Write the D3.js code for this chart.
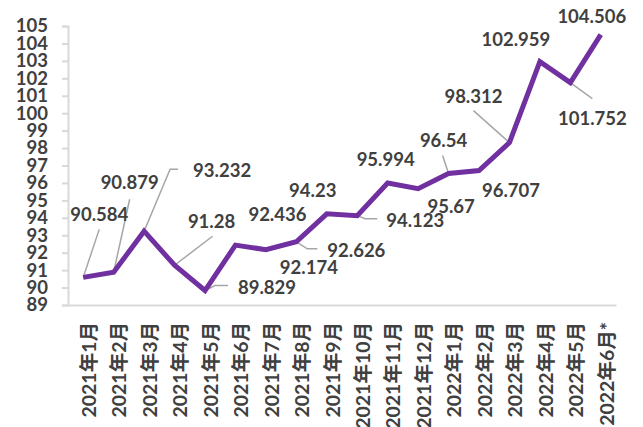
<!DOCTYPE html>
<html lang="zh">
<head>
<meta charset="UTF-8">
<title>Index</title>
<script src="https://cdn.jsdelivr.net/npm/d3@7"></script>
<style>
  body { margin: 0; background: #fff; }
  text { font-family: Lato, "Noto Sans CJK SC", sans-serif; font-weight: bold; fill: #404040; }
</style>
</head>
<body>
<div id="figure" style="width:643px;height:427px"></div>
<script>
    // data
    let months = ["2021年1月", "2021年2月", "2021年3月", "2021年4月", "2021年5月", "2021年6月",
        "2021年7月", "2021年8月", "2021年9月", "2021年10月", "2021年11月", "2021年12月",
        "2022年1月", "2022年2月", "2022年3月", "2022年4月", "2022年5月", "2022年6月*"];
    let values = [90.584, 90.879, 93.232, 91.28, 89.829, 92.436, 92.174, 92.626, 94.23,
        94.123, 95.994, 95.67, 96.54, 96.707, 98.312, 102.959, 101.752, 104.506];
    let labels = ["90.584", "90.879", "93.232", "91.28", "89.829", "92.436", "92.174", "92.626", "94.23",
        "94.123", "95.994", "95.67", "96.54", "96.707", "98.312", "102.959", "101.752", "104.506"];
    let yTicks = d3.range(89, 106);

    // label placement: offset of text (centre, baseline) from its point, and leader line
    let labelOffset = [[16, -56], [16, -83], [78, -54], [37, -37], [62, 3], [42, -24],
        [43, 24], [60, 15], [-14, -17], [58, 11], [-2, -17], [33, 24],
        [-5, -27], [32, 26], [-36, -40], [-24, -16], [22, 42], [-9, -12]];
    let leaders = [[[0, 0], [16, -48]], [[0, 0], [16, -73]], [[0, 0], [26, -62], [34, -62]],
        [[0, 0], [38, -29]], [[0, 0], [10, -5], [23, -5]], null, null,
        [[0, 0], [11, 7], [21, 7]], null, [[0, 0], [8, 3], [20, 3]], null, null,
        [[0, 0], [-6, -18]], null, [[0, 0], [-36, -32]], null, [[0, 0], [22, 16]], null];

    let w = 643, h = 427;
    let padLeft = 68, padRight = 616, padTop = 26, padBottom = 305;

    let svg = d3.select("#figure").append("svg")
        .attr("width", w)
        .attr("height", h);

    let x = d3.scaleBand()
        .domain(months)
        .range([padLeft, padRight]);
    let y = d3.scaleLinear()
        .domain([89, 105])
        .range([padBottom, padTop]);

    // y axis
    let yAxis = svg.append("g")
        .attr("transform", `translate(${padLeft},0)`)
        .call(d3.axisLeft(y).tickValues(yTicks).tickSize(6).tickPadding(14).tickFormat(d3.format("d")));
    yAxis.select(".domain").attr("stroke", "#d9d9d9").attr("stroke-width", 2);
    yAxis.selectAll(".tick line").attr("stroke", "#d9d9d9").attr("stroke-width", 2);
    yAxis.selectAll(".tick text").style("font-size", "18.5px").attr("fill", "#404040");

    // x axis
    let xAxis = svg.append("g")
        .attr("transform", `translate(0,${padBottom})`)
        .call(d3.axisBottom(x).tickSize(0).tickSizeOuter(0));
    xAxis.select(".domain").attr("stroke", "#d9d9d9").attr("stroke-width", 2);
    xAxis.selectAll(".tick text")
        .style("font-size", "19.5px")
        .attr("fill", "#404040")
        .attr("text-anchor", "end")
        .attr("transform", "translate(6,17) rotate(-90)")
        .attr("x", 0)
        .attr("y", 0)
        .attr("dy", "0.35em");

    let px = (d, i) => x(months[i]) + x.bandwidth() / 2;
    let py = d => y(d);

    // leader lines
    svg.append("g").selectAll("path")
        .data(values.map((v, i) => ({v: v, i: i})).filter(d => leaders[d.i]))
        .join("path")
        .attr("fill", "none")
        .attr("stroke", "#a6a6a6")
        .attr("stroke-width", 1.5)
        .attr("d", d => d3.line()(leaders[d.i].map(p => [px(d.v, d.i) + p[0], py(d.v) + p[1]])));

    // line
    svg.append("path")
        .datum(values)
        .attr("fill", "none")
        .attr("stroke", "#7030a0")
        .attr("stroke-width", 5)
        .attr("stroke-linejoin", "miter")
        .attr("d", d3.line().x(px).y(py));

    // data labels
    svg.append("g").selectAll("text")
        .data(values)
        .join("text")
        .attr("text-anchor", "middle")
        .style("font-size", "18.5px")
        .attr("x", (d, i) => px(d, i) + labelOffset[i][0])
        .attr("y", (d, i) => py(d) + labelOffset[i][1])
        .text((d, i) => labels[i]);
</script>
</body>
</html>
